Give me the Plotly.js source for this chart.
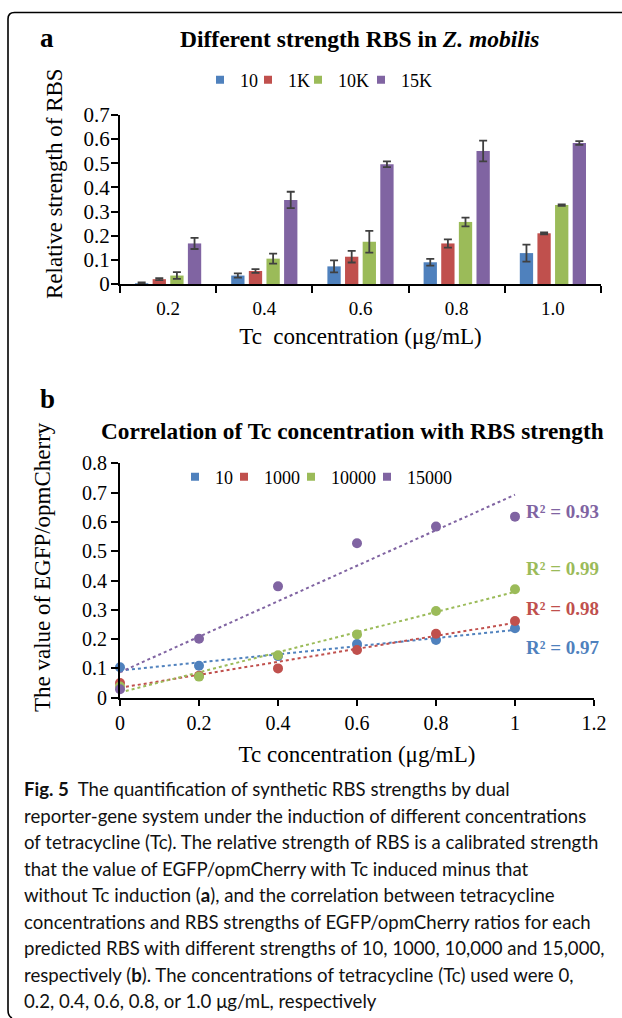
<!DOCTYPE html>
<html>
<head>
<meta charset="utf-8">
<script src="https://cdn.plot.ly/plotly-3.0.1.min.js"></script>
<style>
html,body{margin:0;padding:0;background:#fff;}
#chart{width:622px;height:1018px;}
</style>
</head>
<body>
<div id="chart"></div>
<script>
// ---------- data: panel a (bars) ----------
const categoriesA = ["0.2", "0.4", "0.6", "0.8", "1.0"];
const seriesNamesA = ["10", "1K", "10K", "15K"];
const strengthA10  = [0.003, 0.035, 0.073, 0.090, 0.128];
const errorA10     = [0.004, 0.009, 0.025, 0.014, 0.035];
const strengthA1K  = [0.020, 0.054, 0.113, 0.168, 0.210];
const errorA1K     = [0.004, 0.008, 0.024, 0.017, 0.004];
const strengthA10K = [0.035, 0.105, 0.175, 0.257, 0.327];
const errorA10K    = [0.014, 0.021, 0.045, 0.018, 0.003];
const strengthA15K = [0.168, 0.348, 0.496, 0.551, 0.584];
const errorA15K    = [0.023, 0.034, 0.012, 0.043, 0.008];

// ---------- data: panel b (scatter + linear trend) ----------
const tcB = [0, 0.2, 0.4, 0.6, 0.8, 1.0];
const seriesNamesB = ["10", "1000", "10000", "15000"];
const ratioB10    = [0.104, 0.109, 0.142, 0.183, 0.197, 0.237];
const ratioB1000  = [0.050, 0.075, 0.100, 0.163, 0.218, 0.262];
const ratioB10000 = [0.038, 0.072, 0.145, 0.216, 0.296, 0.370];
const ratioB15000 = [0.029, 0.201, 0.380, 0.527, 0.584, 0.618];
const r2Labels = ["R² = 0.97", "R² = 0.98", "R² = 0.99", "R² = 0.93"];

// ---------- text ----------
const yTicksA = [0, 0.1, 0.2, 0.3, 0.4, 0.5, 0.6, 0.7];
const yTitleA = "Relative strength of RBS";
const yTitleB = "The value of EGFP/opmCherry";
const captionLines = [
  "<b>Fig. 5</b>\u00a0\u00a0The quantification of synthetic RBS strengths by dual",
  "reporter-gene system under the induction of different concentrations",
  "of tetracycline (Tc). The relative strength of RBS is a calibrated strength",
  "that the value of EGFP/opmCherry with Tc induced minus that",
  "without Tc induction (<b>a</b>), and the correlation between tetracycline",
  "concentrations and RBS strengths of EGFP/opmCherry ratios for each",
  "predicted RBS with different strengths of 10, 1000, 10,000 and 15,000,",
  "respectively (<b>b</b>). The concentrations of tetracycline (Tc) used were 0,",
  "0.2, 0.4, 0.6, 0.8, or 1.0 μg/mL, respectively"
];

// ---------- helpers ----------
const W = 622, H = 1018;
const px = x => x / W;
const py = y => 1 - y / H;
const colors = ['#4F81BD', '#C0504D', '#9BBB59', '#8064A2'];
const serif = 'Liberation Serif, "Times New Roman", serif';
const sans = 'Lato, "Noto Sans", sans-serif';

function linFit(xs, ys) {
  const n = xs.length;
  const mx = xs.reduce((a, b) => a + b, 0) / n;
  const my = ys.reduce((a, b) => a + b, 0) / n;
  let sxy = 0, sxx = 0;
  for (let i = 0; i < n; i++) { sxy += (xs[i] - mx) * (ys[i] - my); sxx += (xs[i] - mx) ** 2; }
  const b = sxy / sxx;
  return { a: my - b * mx, b: b };
}

const barVals = [strengthA10, strengthA1K, strengthA10K, strengthA15K];
const barErrs = [errorA10, errorA1K, errorA10K, errorA15K];
const ptsB = [ratioB10, ratioB1000, ratioB10000, ratioB15000];
const legendWidthsA = [3, 5, 18, 34];
const legendWidthsB = [4, 22, 31, 48];

const traces = [];
barVals.forEach((v, i) => {
  traces.push({
    type: 'bar', x: categoriesA, y: v, name: seriesNamesA[i],
    xaxis: 'x', yaxis: 'y', showlegend: false, legendgroup: 'a' + i,
    marker: { color: colors[i], line: { width: 0 } },
    error_y: { type: 'data', array: barErrs[i], visible: true, color: '#404040', thickness: 1.8, width: 4 }
  });
});
seriesNamesA.forEach((n, i) => {
  traces.push({
    type: 'scatter', mode: 'markers', x: [null], y: [null], name: n,
    xaxis: 'x', yaxis: 'y', legend: 'legend', legendgroup: 'a' + i,
    legendwidth: legendWidthsA[i],
    marker: { symbol: 'square', size: 8, color: colors[i] }
  });
});
ptsB.forEach((v, i) => {
  const f = linFit(tcB, v);
  const xs = [tcB[0], tcB[tcB.length - 1]];
  traces.push({
    type: 'scatter', mode: 'lines', x: xs, y: xs.map(x => f.a + f.b * x),
    xaxis: 'x2', yaxis: 'y2', showlegend: false, hoverinfo: 'skip',
    line: { color: colors[i], width: 2, dash: 'dot' }, cliponaxis: false
  });
});
ptsB.forEach((v, i) => {
  traces.push({
    type: 'scatter', mode: 'markers', x: tcB, y: v, name: seriesNamesB[i],
    xaxis: 'x2', yaxis: 'y2', showlegend: false, legendgroup: 'b' + i,
    marker: { color: colors[i], size: 10 }, cliponaxis: false
  });
});
seriesNamesB.forEach((n, i) => {
  traces.push({
    type: 'scatter', mode: 'markers', x: [null], y: [null], name: n,
    xaxis: 'x2', yaxis: 'y2', legend: 'legend2', legendgroup: 'b' + i,
    legendwidth: legendWidthsB[i],
    marker: { symbol: 'square', size: 8, color: colors[i] }
  });
});

const axisCommon = {
  showline: true, linecolor: '#000', linewidth: 2, showgrid: false, zeroline: false,
  ticks: 'outside', tickcolor: '#000', tickwidth: 2, ticklen: 7
};

const annotations = [
  { text: '<b>a</b>', x: px(47), y: py(38), xref: 'paper', yref: 'paper', xanchor: 'center', yanchor: 'middle', showarrow: false, font: { family: serif, size: 27, color: '#000' } },
  { text: '<b>Different strength RBS in <i>Z. mobilis</i></b>', x: px(359), y: py(39), xref: 'paper', yref: 'paper', xanchor: 'center', yanchor: 'middle', showarrow: false, font: { family: serif, size: 23.5, color: '#000' } },
  { text: '<b>b</b>', x: px(47), y: py(399), xref: 'paper', yref: 'paper', xanchor: 'center', yanchor: 'middle', showarrow: false, font: { family: serif, size: 27, color: '#000' } },
  { text: '<b>Correlation of Tc concentration with RBS strength</b>', x: px(352), y: py(431), xref: 'paper', yref: 'paper', xanchor: 'center', yanchor: 'middle', showarrow: false, font: { family: serif, size: 23.3, color: '#000' } },
  { text: yTitleA, textangle: -90, x: px(54), y: py(184), xref: 'paper', yref: 'paper', xanchor: 'center', yanchor: 'middle', showarrow: false, font: { family: serif, size: 23, color: '#000' } },
  { text: yTitleB, textangle: -90, x: px(42), y: py(567), xref: 'paper', yref: 'paper', xanchor: 'center', yanchor: 'middle', showarrow: false, font: { family: serif, size: 23, color: '#000' } }
];
const r2Y = [647, 608, 568, 511];
r2Labels.forEach((t, i) => {
  annotations.push({ text: '<b>' + t + '</b>', x: px(562), y: py(r2Y[i]), xref: 'paper', yref: 'paper', xanchor: 'center', yanchor: 'middle', showarrow: false, font: { family: serif, size: 19, color: colors[i] } });
});
captionLines.forEach((t, i) => {
  annotations.push({ text: t, x: px(22), y: py(789 + 26.5 * i), xref: 'paper', yref: 'paper', xanchor: 'left', yanchor: 'middle', showarrow: false, align: 'left', font: { family: sans, size: 18.6, color: '#111' } });
});

const border = {
  type: 'path', xref: 'paper', yref: 'paper', line: { color: '#000', width: 1.6 },
  path: 'M ' + px(12) + ',' + py(1018) + ' Q ' + px(8) + ',' + py(1016) + ' ' + px(8) + ',' + py(1010) +
        ' L ' + px(8) + ',' + py(19) + ' Q ' + px(8) + ',' + py(12.5) + ' ' + px(14.5) + ',' + py(12.5) +
        ' L ' + px(622) + ',' + py(12.5)
};

const layout = {
  width: W, height: H, margin: { l: 0, r: 0, t: 0, b: 0 },
  paper_bgcolor: '#fff', plot_bgcolor: 'rgba(0,0,0,0)',
  font: { family: serif, color: '#000' },
  barmode: 'group', bargap: 0.267, bargroupgap: 0.245,
  showlegend: true,
  xaxis: Object.assign({}, axisCommon, {
    domain: [px(120), px(601)], anchor: 'y', type: 'category', range: [-0.5, 4.5],
    tickson: 'boundaries', ticklabelstandoff: 6,
    tickfont: { family: serif, size: 19, color: '#000' },
    title: { text: 'Tc\u00a0\u00a0concentration (μg/mL)', font: { family: serif, size: 23, color: '#000' }, standoff: 10 }
  }),
  yaxis: Object.assign({}, axisCommon, {
    domain: [py(284), py(115)], anchor: 'x', range: [0, 0.7], tickvals: yTicksA, ticktext: yTicksA.map(String),
    ticklabelstandoff: -3,
    tickfont: { family: serif, size: 21, color: '#000' }
  }),
  xaxis2: Object.assign({}, axisCommon, {
    domain: [px(120), px(594)], anchor: 'y2', range: [0, 1.2], dtick: 0.2, ticklen: 6, ticklabelstandoff: 0,
    tickfont: { family: serif, size: 20, color: '#000' },
    title: { text: 'Tc concentration (μg/mL)', font: { family: serif, size: 23, color: '#000' }, standoff: 13 }
  }),
  yaxis2: Object.assign({}, axisCommon, {
    domain: [py(697.7), py(463.3)], anchor: 'x2', range: [0, 0.8], dtick: 0.1, ticklabelstandoff: 0,
    tickfont: { family: serif, size: 20, color: '#000' }
  }),
  legend: {
    orientation: 'h', x: px(200), xanchor: 'left', y: py(80), yanchor: 'middle',
    font: { family: serif, size: 18, color: '#000' }, bgcolor: 'rgba(0,0,0,0)', borderwidth: 0,
    itemwidth: 30, traceorder: 'normal', itemclick: false, itemdoubleclick: false
  },
  legend2: {
    orientation: 'h', x: px(175), xanchor: 'left', y: py(477), yanchor: 'middle',
    font: { family: serif, size: 18, color: '#000' }, bgcolor: 'rgba(0,0,0,0)', borderwidth: 0,
    itemwidth: 30, traceorder: 'normal', itemclick: false, itemdoubleclick: false
  },
  annotations: annotations,
  shapes: [border]
};

Plotly.newPlot('chart', traces, layout, { displayModeBar: false, staticPlot: true });
</script>
</body>
</html>
